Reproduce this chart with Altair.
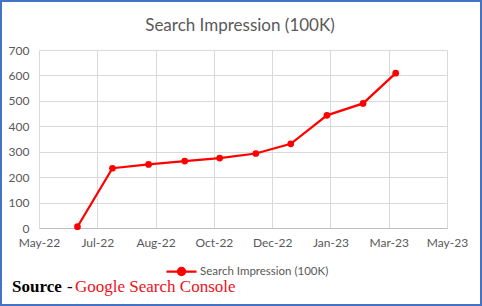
import altair as alt
import pandas as pd

dates = ["2022-06-22", "2022-07-22", "2022-08-22", "2022-09-22", "2022-10-22",
         "2022-11-22", "2022-12-22", "2023-01-22", "2023-02-22", "2023-03-22"]
values = [5, 235, 250, 263, 275, 293, 331, 443, 490, 609]
series_name = "Search Impression (100K)"
x_ticks = [(2022, 5, 20), (2022, 7, 9), (2022, 8, 28), (2022, 10, 17),
           (2022, 12, 6), (2023, 1, 25), (2023, 3, 16), (2023, 5, 5)]
y_ticks = [0, 100, 200, 300, 400, 500, 600, 700]

df = pd.DataFrame({"date": dates, "value": values, "series": [series_name] * len(dates)})

def dt(t):
    return alt.DateTime(year=t[0], month=t[1], date=t[2], utc=True)

W, H = 408, 178
PL, PT, PR, PB = 39, 50, 35, 78
FONT = "Lato"
GREY = "#595959"
RED = "#FF0000"

x_enc = alt.X("date:T", title=None,
              scale=alt.Scale(type="utc", domain=[dt(x_ticks[0]), dt(x_ticks[-1])]),
              axis=alt.Axis(values=[dt(t) for t in x_ticks],
                            labelExpr="utcFormat(datum.value, '%b-%y')",
                            labelOverlap=False, labelFlush=False,
                            grid=True, gridColor="#D9D9D9", ticks=False,
                            domainColor="#BFBFBF", labelPadding=9,
                            labelFont=FONT, labelFontSize=12, labelColor=GREY))
y_enc = alt.Y("value:Q", title=None,
              scale=alt.Scale(domain=[0, 700], nice=False),
              axis=alt.Axis(values=y_ticks, grid=True, gridColor="#D9D9D9", ticks=False,
                            domain=False, labelPadding=10,
                            labelFont=FONT, labelFontSize=12, labelColor=GREY))
color_enc = alt.Color("series:N", scale=alt.Scale(range=[RED]),
                      legend=alt.Legend(title=None, orient="none", legendX=126, legendY=205,
                                        symbolType="M-1,0L1,0M-0.24,0A0.24,0.24,0,1,1,0.24,0A0.24,0.24,0,1,1,-0.24,0Z",
                                        symbolSize=900, symbolStrokeWidth=2.25,
                                        symbolFillColor=RED, symbolStrokeColor=RED,
                                        labelFont=FONT, labelFontSize=11.5, labelColor=GREY,
                                        labelOffset=2))

line = alt.Chart(df).mark_line(strokeWidth=2.25).encode(x=x_enc, y=y_enc, color=color_enc)
pts = alt.Chart(df).mark_point(filled=True, size=45, opacity=1).encode(x=x_enc, y=y_enc, color=color_enc)

title_df = pd.DataFrame({"t": ["Search Impression (100K)"]})
title = alt.Chart(title_df).mark_text(font=FONT, fontSize=17, color=GREY, align="center",
                                      baseline="alphabetic").encode(
    x=alt.value(201), y=alt.value(-19), text="t:N")

src_df = pd.DataFrame({"t": ["Source"]})
src = alt.Chart(src_df).mark_text(font="Liberation Serif", fontSize=17, fontWeight="bold",
                                  color="black", align="left", baseline="alphabetic").encode(
    x=alt.value(-27), y=alt.value(242), text="t:N")
dash_df = pd.DataFrame({"t": ["-"]})
dash = alt.Chart(dash_df).mark_text(font="Liberation Serif", fontSize=17,
                                    color="black", align="left", baseline="alphabetic").encode(
    x=alt.value(28), y=alt.value(242), text="t:N")
gsc_df = pd.DataFrame({"t": ["Google Search Console"]})
gsc = alt.Chart(gsc_df).mark_text(font="Liberation Serif", fontSize=17,
                                  color="#F01020", align="left", baseline="alphabetic").encode(
    x=alt.value(36), y=alt.value(242), text="t:N")

border = alt.Chart(title_df).mark_rect(fill=None, stroke="#4472C4", strokeWidth=2).encode(
    x=alt.value(-PL + 1), x2=alt.value(W + PR - 1),
    y=alt.value(-PT + 1), y2=alt.value(H + PB - 1))

chart = alt.layer(line, pts, title, src, dash, gsc, border).properties(
    width=W, height=H,
    padding={"left": PL, "top": PT, "right": PR, "bottom": PB},
    autosize=alt.AutoSizeParams(type="none"),
    background="white",
).configure_view(stroke=None)

chart.save("out.html", embed_options={"renderer": "svg", "actions": False})
